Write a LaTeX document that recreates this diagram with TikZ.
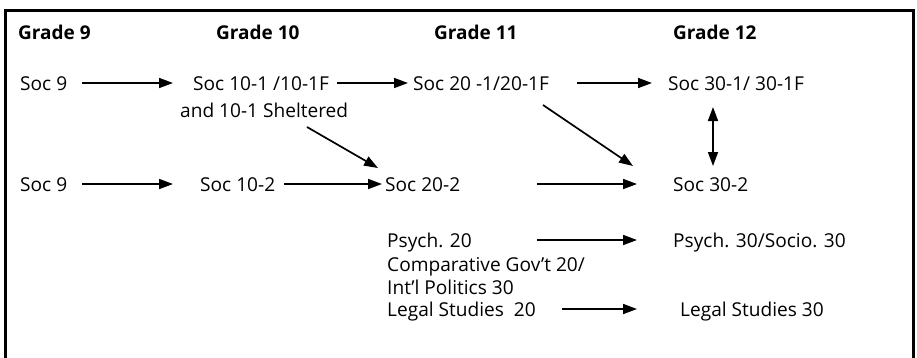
\documentclass[tikz,border=0pt]{standalone}
\usepackage{fontspec}
\setmainfont{Open Sans}
\usetikzlibrary{arrows.meta,calc}
\begin{document}
\begin{tikzpicture}[x=1pt,y=-1pt,
  lbl/.style={anchor=base west, inner sep=0pt, font=\fontsize{19.1}{23}\selectfont},
  hdr/.style={anchor=base west, inner sep=0pt, font=\fontsize{19}{23}\selectfont\bfseries},
  arr/.style={line width=1.7pt, -{Triangle[length=14pt,width=10pt]}},
  darr/.style={line width=1.7pt, {Triangle[length=14pt,width=10pt]}-{Triangle[length=14pt,width=10pt]}},
  framebox/.style={line width=3pt, line join=miter}]
\useasboundingbox (0,0) rectangle (917,357);
\draw[framebox] (5,360) -- (5,10) -- (913,10) -- (913,360);

% headers
\node[hdr] (g9)  at (18,39)  {Grade 9};
\node[hdr] (g10) at (216,39) {Grade 10};
\node[hdr] (g11) at (434,39) {Grade 11};
\node[hdr] (g12) at (673,39) {Grade 12};

% row 1
\node[lbl] (s9a)  at (20,90)  {Soc 9};
\node[lbl] (s10a) at (193,90) {Soc 10-1 /10-1F};
\node[lbl] (s10b) at (180,117) {and 10-1 Sheltered};
\node[lbl] (s201) at (413,90) {Soc 20 -1/20-1F};
\node[lbl] (s301) at (668,90) {Soc 30-1/ 30-1F};

% row 2
\node[lbl] (s9b)  at (20,191)  {Soc 9};
\node[lbl] (s102) at (200,191) {Soc 10-2};
\node[lbl] (s202) at (385,191) {Soc 20-2};
\node[lbl] (s302) at (673,191) {Soc 30-2};

% options
\node[lbl] (p20)  at (387,247) {Psych. 20};
\node[lbl] (cg20) at (387,271) {Comparative Gov’t 20/};
\node[lbl] (ip30) at (387,294) {Int’l Politics 30};
\node[lbl] (l20)  at (387,316) {Legal Studies\ \ 20};
\node[lbl] (p30)  at (673,247) {Psych. 30/Socio. 30};
\node[lbl] (l30)  at (680,316) {Legal Studies 30};

% horizontal arrows
\draw[arr] ($(s9a.base west)+(62,-7)$)   -- ($(s10a.base west)+(-20,-7)$);
\draw[arr] ($(s10a.base west)+(144,-7)$) -- ($(s201.base west)+(-5,-7)$);
\draw[arr] ($(s201.base west)+(164,-7)$) -- ($(s301.base west)+(-16,-7)$);
\draw[arr] ($(s9b.base west)+(62,-7)$)   -- ($(s102.base west)+(-27,-7)$);
\draw[arr] ($(s102.base west)+(84,-7)$)  -- ($(s202.base west)+(-3,-7)$);
\draw[arr] ($(s202.base west)+(152,-7)$) -- ($(s302.base west)+(-36,-7)$);
\draw[arr] ($(p20.base west)+(150,-7)$)  -- ($(p30.base west)+(-36,-7)$);
\draw[arr] ($(l20.base west)+(175,-7)$)  -- ($(l30.base west)+(-43,-7)$);

% diagonal arrows
\draw[arr] ($(s10b.base west)+(127,10)$) -- ($(s202.base west)+(-7,-23)$);
\draw[arr] ($(s201.base west)+(130,15)$) -- ($(s302.base west)+(-40,-25)$);

% double arrow
\draw[darr] ($(s301.base west)+(45,17)$) -- ($(s302.base west)+(40,-25)$);
\end{tikzpicture}
\end{document}
